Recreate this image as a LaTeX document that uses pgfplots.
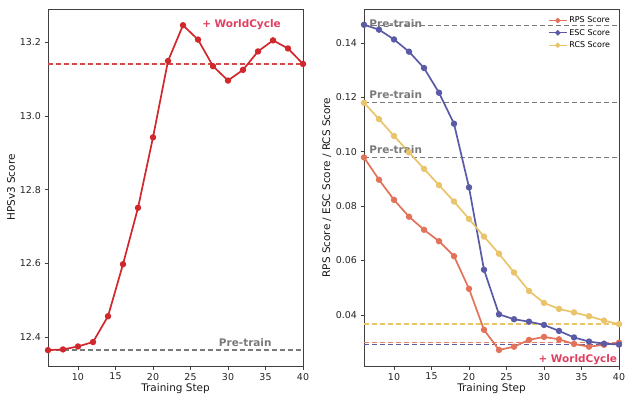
\documentclass[border=0pt]{standalone}
\usepackage{fontspec}
\setmainfont{DejaVu Sans}
\usepackage{pgfplots}
\pgfplotsset{compat=1.18}
\definecolor{hred}{HTML}{D0282C}
\definecolor{wc}{HTML}{E04060}
\definecolor{rps}{HTML}{E2735A}
\definecolor{esc}{HTML}{5A5AA6}
\definecolor{rcs}{HTML}{E9C46A}
\definecolor{pt}{HTML}{7A7A7A}
\newfontfamily\annfont{DejaVu Sans}
\tikzset{hdash/.style={dash pattern=on 5bp off 3bp, line width=1.3bp}}
\pgfplotsset{
  mystyle/.style={
    scale only axis, width=255bp, height=357bp,
    xmin=6, xmax=40, xtick={10,15,20,25,30,35,40},
    tick align=outside, tick pos=left,
    axis line style={black!75, line width=0.8bp},
    major tick length=3.5bp,
    tick style={black!75, line width=0.7bp},
    ticklabel style={font=\fontsize{9.5}{10}\selectfont, text=black!85},
    label style={font=\fontsize{10.5}{12}\selectfont, text=black!90},
    xlabel={Training Step},
    xlabel style={yshift=3bp},
    /pgf/number format/assume math mode=true,
  },
  dl/.style={line width=1.7bp, mark=*, mark size=2.3bp, mark options={solid}},
}
\begin{document}
\begin{tikzpicture}[x=1bp,y=1bp]
\path (0,0) rectangle (639,404);
\begin{axis}[mystyle, at={(48bp,38bp)}, anchor=south west,
  ymin=12.322, ymax=13.29,
  ytick={12.4,12.6,12.8,13.0,13.2},
  yticklabel style={/pgf/number format/.cd, fixed, fixed zerofill, precision=1},
  ylabel={HPSv3 Score}, ylabel style={yshift=-2bp}]
\addplot[pt, hdash, forget plot] coordinates {(6,12.365) (40,12.365)};
\addplot[hred!85, hdash, forget plot] coordinates {(6,13.141) (40,13.141)};
\addplot[hred, dl] coordinates {
(6,12.365) (8,12.367) (10,12.375) (12,12.387) (14,12.457) (16,12.598)
(18,12.751) (20,12.942) (22,13.149) (24,13.246) (26,13.207) (28,13.135)
(30,13.096) (32,13.125) (34,13.175) (36,13.205) (38,13.183) (40,13.141)};
\node[text=wc, font=\annfont\bfseries\fontsize{10.5}{11}\selectfont, anchor=center] at (axis cs:31.8,13.248) {+ WorldCycle};
\node[text=pt, font=\annfont\bfseries\fontsize{10.5}{11}\selectfont, anchor=center] at (axis cs:32.3,12.385) {Pre-train};
\end{axis}
\begin{axis}[mystyle, at={(364bp,38bp)}, anchor=south west,
  ymin=0.0212, ymax=0.1525,
  ytick={0.04,0.06,0.08,0.10,0.12,0.14},
  yticklabel style={/pgf/number format/.cd, fixed, fixed zerofill, precision=2},
  ylabel={RPS Score / ESC Score / RCS Score}, ylabel style={yshift=-2bp},
  legend style={at={(0.985,0.99)}, anchor=north east, draw=none, fill=none,
    font=\fontsize{8}{9}\selectfont, row sep=1bp},
  legend cell align=left,
  legend image code/.code={\draw[#1, line width=1.2bp] (0bp,0bp) -- (18bp,0bp); \draw[#1, mark size=1.7bp] plot coordinates {(9bp,0bp)};}]
\addplot[pt, hdash, forget plot] coordinates {(6,0.1465) (40,0.1465)};
\addplot[pt, hdash, forget plot] coordinates {(6,0.1180) (40,0.1180)};
\addplot[pt, hdash, forget plot] coordinates {(6,0.0979) (40,0.0979)};
\addplot[rcs, hdash, forget plot] coordinates {(6,0.0366) (40,0.0366)};
\addplot[rps!90, hdash, forget plot] coordinates {(6,0.0298) (40,0.0298)};
\addplot[esc, hdash, forget plot] coordinates {(6,0.0291) (40,0.0291)};
\addplot[rps, dl] coordinates {
(6,0.0979) (8,0.0897) (10,0.0823) (12,0.0761) (14,0.0713) (16,0.0671)
(18,0.0616) (20,0.0496) (22,0.0345) (24,0.0271) (26,0.0283) (28,0.0308)
(30,0.0319) (32,0.0310) (34,0.0293) (36,0.0283) (38,0.0290) (40,0.0298)};
\addlegendentry{RPS Score}
\addplot[esc, dl] coordinates {
(6,0.1467) (8,0.1449) (10,0.1413) (12,0.1368) (14,0.1308) (16,0.1217)
(18,0.1103) (20,0.0869) (22,0.0566) (24,0.0402) (26,0.0384) (28,0.0375)
(30,0.0363) (32,0.0341) (34,0.0317) (36,0.0302) (38,0.0294) (40,0.0291)};
\addlegendentry{ESC Score}
\addplot[rcs, dl] coordinates {
(6,0.1180) (8,0.1120) (10,0.1058) (12,0.0998) (14,0.0937) (16,0.0877)
(18,0.0817) (20,0.0753) (22,0.0688) (24,0.0625) (26,0.0556) (28,0.0488)
(30,0.0444) (32,0.0422) (34,0.0409) (36,0.0395) (38,0.0379) (40,0.0366)};
\addlegendentry{RCS Score}
\node[text=pt, font=\annfont\bfseries\fontsize{10.5}{11}\selectfont, anchor=base west, inner sep=0pt] at (axis cs:6.7,0.1457) {Pre-train};
\node[text=pt, font=\annfont\bfseries\fontsize{10.5}{11}\selectfont, anchor=base west, inner sep=0pt] at (axis cs:6.7,0.1195) {Pre-train};
\node[text=pt, font=\annfont\bfseries\fontsize{10.5}{11}\selectfont, anchor=base west, inner sep=0pt] at (axis cs:6.7,0.0994) {Pre-train};
\node[text=wc, font=\annfont\bfseries\fontsize{10.5}{11}\selectfont, anchor=center] at (axis cs:34.5,0.0237) {+ WorldCycle};
\end{axis}
\end{tikzpicture}
\end{document}
